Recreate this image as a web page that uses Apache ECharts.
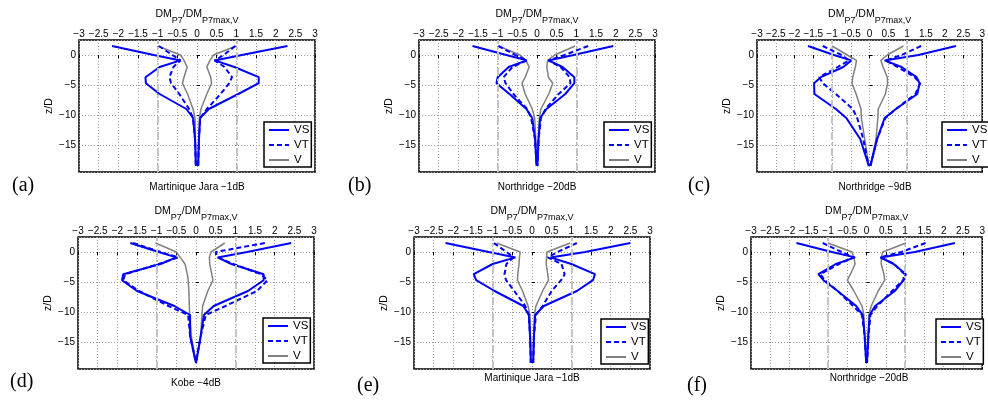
<!DOCTYPE html>
<html><head><meta charset="utf-8">
<script src="https://cdn.jsdelivr.net/npm/echarts@6/dist/echarts.min.js"></script>
<style>html,body{margin:0;padding:0;background:#fff}#c{width:988px;height:401px}</style>
</head><body><div id="c"></div>
<script>
// depth levels z/D shared by every profile
const Z = [1.5, 0, -0.9, -2, -3.7, -4.7, -6.5, -9, -10.5, -14, -18.5];
const seriesNames = ['VS', 'VT', 'V'];
const refLines = [-1, 1];
const panelLetters = ['(a)', '(b)', '(c)', '(d)', '(e)', '(f)'];
const panelTitles = ['Martinique Jara \u22121dB', 'Northridge \u221220dB', 'Northridge \u22129dB', 'Kobe \u22124dB', 'Martinique Jara \u22121dB', 'Northridge \u221220dB'];

// (a)
const aVSL = [-2.16, -1.1, -0.42, -0.95, -1.31, -1.3, -0.95, -0.27, -0.1, -0.05, -0.03];
const aVSR = [2.3, 1.14, 0.45, 0.95, 1.57, 1.57, 1.05, 0.3, 0.08, 0.05, 0.03];
const aVTL = [-0.97, -0.63, -0.42, -0.6, -0.7, -0.66, -0.45, -0.2, -0.1, -0.05, -0.03];
const aVTR = [0.97, 0.68, 0.45, 0.7, 0.89, 0.82, 0.6, 0.25, 0.08, 0.05, 0.03];
const aVL = [-1.0, -0.42, -0.33, -0.25, -0.33, -0.37, -0.24, -0.1, -0.05, -0.04, -0.02];
const aVR = [1.0, 0.42, 0.33, 0.25, 0.35, 0.37, 0.25, 0.1, 0.06, 0.05, 0.02];
// (b)
const bVSL = [-1.64, -0.78, -0.26, -0.72, -1.0, -1.03, -0.7, -0.27, -0.12, -0.05, -0.01];
const bVSR = [1.94, 0.93, 0.29, 0.65, 0.95, 0.95, 0.72, 0.24, 0.08, 0.04, 0.01];
const bVTL = [-0.98, -0.55, -0.26, -0.62, -0.85, -0.8, -0.6, -0.25, -0.15, -0.05, -0.01];
const bVTR = [1.3, 0.7, 0.29, 0.6, 0.83, 0.85, 0.55, 0.22, 0.1, 0.04, 0.01];
const bVL = [-0.98, -0.43, -0.28, -0.2, -0.3, -0.38, -0.3, -0.12, -0.06, -0.03, -0.01];
const bVR = [0.97, 0.45, 0.27, 0.25, 0.29, 0.4, 0.3, 0.1, 0.06, 0.03, 0.01];
// (c)
const cVSL = [-1.64, -0.95, -0.49, -0.7, -1.3, -1.48, -1.47, -0.9, -0.62, -0.25, -0.02];
const cVSR = [2.3, 1.3, 0.4, 0.85, 1.25, 1.33, 1.27, 0.7, 0.4, 0.2, 0.02];
const cVTL = [-1.25, -0.75, -0.55, -0.85, -1.34, -1.25, -0.9, -0.45, -0.33, -0.17, -0.02];
const cVTR = [1.37, 0.85, 0.42, 0.75, 1.2, 1.35, 1.22, 0.7, 0.42, 0.2, 0.02];
const cVL = [-1.0, -0.6, -0.35, -0.38, -0.45, -0.47, -0.36, -0.23, -0.22, -0.13, -0.02];
const cVR = [0.9, 0.47, 0.3, 0.36, 0.47, 0.48, 0.42, 0.23, 0.22, 0.17, 0.02];
// (d)
const dVSL = [-1.67, -0.95, -0.5, -0.9, -1.85, -1.88, -1.5, -0.55, -0.15, -0.15, 0];
const dVSR = [2.42, 1.3, 0.55, 0.9, 1.72, 1.72, 1.32, 0.45, 0.2, 0.12, 0];
const dVTL = [-1.6, -0.9, -0.45, -0.95, -1.8, -1.85, -1.45, -0.7, -0.2, -0.15, 0];
const dVTR = [1.75, 0.5, 0.55, 0.95, 1.65, 1.82, 1.55, 0.75, 0.25, 0.12, 0];
const dVL = [-1.03, -0.5, -0.4, -0.28, -0.22, -0.2, -0.18, -0.17, -0.16, -0.12, 0];
const dVR = [0.73, 0.38, 0.34, 0.35, 0.4, 0.43, 0.3, 0.17, 0.15, 0.12, 0];
// (e)
const eVSL = [-2.2, -1.1, -0.42, -1.0, -1.48, -1.42, -0.95, -0.22, -0.08, -0.05, -0.03];
const eVSR = [2.5, 1.35, 0.47, 1.0, 1.6, 1.55, 1.14, 0.3, 0.08, 0.05, 0.03];
const eVTL = [-0.97, -0.65, -0.47, -0.65, -0.7, -0.66, -0.45, -0.17, -0.08, -0.05, -0.03];
const eVTR = [1.14, 0.65, 0.4, 0.75, 0.83, 0.74, 0.5, 0.27, 0.1, 0.05, 0.03];
const eVL = [-0.9, -0.3, -0.32, -0.33, -0.36, -0.37, -0.24, -0.1, -0.05, -0.04, -0.02];
const eVR = [0.97, 0.38, 0.37, 0.36, 0.4, 0.42, 0.27, 0.1, 0.06, 0.05, 0.03];
// (f)
const fVSL = [-1.82, -0.9, -0.3, -0.8, -1.25, -1.12, -0.75, -0.27, -0.1, -0.05, -0.01];
const fVSR = [2.29, 1.25, 0.36, 0.7, 1.02, 0.96, 0.73, 0.22, 0.08, 0.04, 0.01];
const fVTL = [-1.14, -0.65, -0.34, -0.72, -1.2, -1.08, -0.75, -0.35, -0.12, -0.05, -0.01];
const fVTR = [1.53, 0.9, 0.36, 0.72, 0.98, 0.95, 0.66, 0.28, 0.1, 0.05, 0.01];
const fVL = [-1.0, -0.38, -0.33, -0.3, -0.42, -0.5, -0.33, -0.12, -0.07, -0.05, -0.01];
const fVR = [1.02, 0.42, 0.38, 0.38, 0.45, 0.47, 0.3, 0.12, 0.06, 0.05, 0.01];

const panelData = [
  {VS: [aVSL, aVSR], VT: [aVTL, aVTR], V: [aVL, aVR]},
  {VS: [bVSL, bVSR], VT: [bVTL, bVTR], V: [bVL, bVR]},
  {VS: [cVSL, cVSR], VT: [cVTL, cVTR], V: [cVL, cVR]},
  {VS: [dVSL, dVSR], VT: [dVTL, dVTR], V: [dVL, dVR]},
  {VS: [eVSL, eVSR], VT: [eVTL, eVTR], V: [eVL, eVR]},
  {VS: [fVSL, fVSR], VT: [fVTL, fVTR], V: [fVL, fVR]}
];

// layout
const gridLeft = [79, 419, 757, 78, 414, 751];
const gridTop = [40, 40, 40, 237, 237, 237];
const GW = 236, GH = 132;
const legendPos = [[264, 122], [604, 122], [942, 122], [263, 318], [601, 319], [936, 319]];
const letterPos = [[12, 186], [348, 186], [688, 186], [10, 382], [357, 386], [687, 386]];
const titleY = [187, 187, 187, 383, 378, 378];

const FONT = 'Liberation Sans';
const minus = v => (v < 0 ? '\u2212' + Math.abs(v) : String(v));
const styles = {
  VS: {color: '#0000ff', width: 2, type: 'solid'},
  VT: {color: '#0000ff', width: 2, type: [5, 3]},
  V: {color: '#808080', width: 1.5, type: 'solid'}
};

const grids = [], xAxes = [], yAxes = [], series = [], legends = [], graphics = [];
for (let i = 0; i < 6; i++) {
  grids.push({left: gridLeft[i], top: gridTop[i], width: GW, height: GH, show: true,
    borderColor: '#000', borderWidth: 1.5, backgroundColor: '#fff'});
  xAxes.push({type: 'value', gridIndex: i, position: 'top', min: -3, max: 3, interval: 0.5,
    name: '{a|DM}{b|P7}{a|/DM}{b|P7max,V}', nameLocation: 'middle', nameGap: 14,
    nameTextStyle: {rich: {
      a: {fontSize: 10.5, fontFamily: FONT, color: '#000', lineHeight: 12, height: 12, verticalAlign: 'top'},
      b: {fontSize: 9, fontFamily: FONT, color: '#000', lineHeight: 18, height: 10, verticalAlign: 'bottom'}
    }},
    axisLine: {show: false},
    axisTick: {show: true, inside: true, length: 3, lineStyle: {color: '#000', width: 1}},
    axisLabel: {fontSize: 10, fontFamily: FONT, color: '#000', margin: 1, interval: 0, hideOverlap: false, formatter: minus},
    splitLine: {show: true, lineStyle: {color: '#9a9a9a', width: 1, type: [1, 2]}}
  });
  yAxes.push({type: 'value', gridIndex: i, min: -19.5, max: 2.5, splitNumber: 4,
    name: 'z/D', nameLocation: 'middle', nameGap: 24,
    nameTextStyle: {fontSize: 10.5, fontFamily: FONT, color: '#000'},
    axisLine: {show: false},
    axisTick: {show: true, inside: true, length: 3, lineStyle: {color: '#000', width: 1}},
    axisLabel: {fontSize: 10, fontFamily: FONT, color: '#000', margin: 3, showMinLabel: false, showMaxLabel: false, formatter: minus},
    splitLine: {show: true, lineStyle: {color: '#9a9a9a', width: 1, type: [1, 2]}}
  });
  ['V', 'VT', 'VS'].forEach(nm => {
    panelData[i][nm].forEach((branch, side) => {
      const s = {type: 'line', name: nm, xAxisIndex: i, yAxisIndex: i, symbol: 'none',
        animation: false, silent: true, z: nm === 'V' ? 3 : 4,
        lineStyle: styles[nm], itemStyle: {color: styles[nm].color},
        data: branch.map((x, k) => [x, Z[k]])};
      if (nm === 'V' && side === 0) {
        s.markLine = {silent: true, symbol: ['none', 'none'], label: {show: false}, animation: false,
          lineStyle: {color: '#c4c4c4', width: 2, type: [8, 3, 2, 3]},
          data: refLines.map(v => ({xAxis: v}))};
      }
      series.push(s);
    });
  });
  legends.push({left: legendPos[i][0], top: legendPos[i][1], orient: 'vertical', data: seriesNames,
    selectedMode: false, itemWidth: 20, itemHeight: 10, itemGap: 3,
    itemStyle: {opacity: 0},
    backgroundColor: '#fff', borderColor: '#000', borderWidth: 1.5, borderRadius: 0, padding: [2, 2, 1, 4],
    textStyle: {fontSize: 11.5, fontFamily: FONT, color: '#000'}});
  graphics.push({type: 'text', x: letterPos[i][0], y: letterPos[i][1],
    style: {text: panelLetters[i], fontSize: 20, fontFamily: 'Liberation Serif', fill: '#000', align: 'left', verticalAlign: 'middle'}});
  graphics.push({type: 'text', x: gridLeft[i] + GW / 2, y: titleY[i],
    style: {text: panelTitles[i], fontSize: 10, fontFamily: FONT, fill: '#000', align: 'center', verticalAlign: 'middle'}});
}

const chart = echarts.init(document.getElementById('c'), null, {renderer: 'canvas'});
chart.setOption({animation: false, backgroundColor: '#fff', grid: grids, xAxis: xAxes, yAxis: yAxes,
  series: series, legend: legends, graphic: graphics});
</script></body></html>
